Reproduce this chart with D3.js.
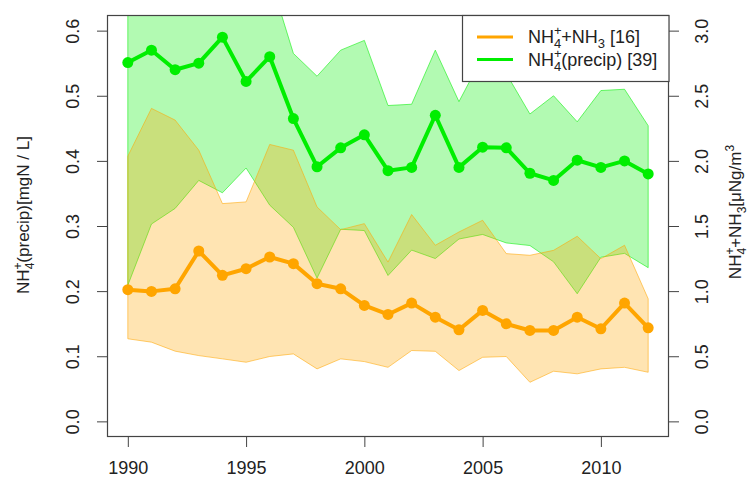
<!DOCTYPE html>
<html>
<head>
<meta charset="utf-8">
<script src="https://cdn.jsdelivr.net/npm/d3@7"></script>
<style>
    body { margin: 0; background: #fff; }
    svg { display: block; font-family: "Liberation Sans", Arial, sans-serif; }
</style>
</head>
<body>
<div class="chart-container"></div>
<script>
const years = [1990, 1991, 1992, 1993, 1994, 1995, 1996, 1997, 1998, 1999, 2000, 2001,
    2002, 2003, 2004, 2005, 2006, 2007, 2008, 2009, 2010, 2011, 2012];

// NH4+(precip), left axis [mgN/L]
const precipMean = [0.551, 0.570, 0.540, 0.550, 0.590, 0.522, 0.560, 0.465, 0.391, 0.420, 0.440, 0.385,
    0.390, 0.470, 0.390, 0.421, 0.420, 0.381, 0.370, 0.401, 0.390, 0.400, 0.380];
const precipUpper = [0.80, 0.78, 0.76, 0.78, 0.74, 0.72, 0.683, 0.565, 0.530, 0.570, 0.585, 0.485,
    0.487, 0.570, 0.491, 0.560, 0.534, 0.472, 0.500, 0.460, 0.508, 0.510, 0.454];
const precipLower = [0.209, 0.303, 0.327, 0.370, 0.351, 0.389, 0.332, 0.298, 0.220, 0.295, 0.293, 0.224,
    0.263, 0.250, 0.280, 0.287, 0.274, 0.270, 0.245, 0.196, 0.252, 0.258, 0.236];

// NH4+ + NH3, right axis [uNg/m3]
const nhMean = [1.011, 0.998, 1.018, 1.308, 1.121, 1.172, 1.262, 1.211, 1.057, 1.018, 0.890, 0.821,
    0.908, 0.800, 0.703, 0.852, 0.749, 0.698, 0.698, 0.800, 0.711, 0.908, 0.718];
const nhUpper = [2.036, 2.403, 2.313, 2.082, 1.672, 1.685, 2.126, 2.082, 1.646, 1.472, 1.518, 1.223,
    1.588, 1.352, 1.454, 1.544, 1.288, 1.275, 1.313, 1.421, 1.249, 1.352, 0.941];
const nhLower = [0.634, 0.608, 0.539, 0.505, 0.480, 0.454, 0.498, 0.518, 0.403, 0.480, 0.459, 0.415,
    0.544, 0.538, 0.390, 0.492, 0.498, 0.300, 0.385, 0.365, 0.403, 0.415, 0.377];

const xTicks = [1990, 1995, 2000, 2005, 2010];
const leftTicks = [0.0, 0.1, 0.2, 0.3, 0.4, 0.5, 0.6];
const rightTicks = [0.0, 0.5, 1.0, 1.5, 2.0, 2.5, 3.0];

const WIDTH = 749;
const HEIGHT = 477;
const plot = { left: 107, right: 669, top: 15, bottom: 437 };
const FONT = 17;
const TICK_FONT = 18;
const ORANGE = '#ffa500';
const GREEN = '#00ee00';

const svg = d3.select('.chart-container').append('svg')
    .attr('width', WIDTH)
    .attr('height', HEIGHT);

const x = d3.scaleLinear().domain([1989.12, 2012.88]).range([plot.left, plot.right]);
const yL = d3.scaleLinear().domain([-0.024, 0.624]).range([plot.bottom, plot.top]);
const yR = d3.scaleLinear().domain([-0.12, 3.12]).range([plot.bottom, plot.top]);

svg.append('clipPath').attr('id', 'plot-clip')
    .append('rect')
    .attr('x', plot.left)
    .attr('y', plot.top)
    .attr('width', plot.right - plot.left)
    .attr('height', plot.bottom - plot.top);

const body = svg.append('g').attr('clip-path', 'url(#plot-clip)');

function drawBand(lower, upper, yScale, color, fillOpacity) {
    const area = d3.area()
        .x((d, i) => x(years[i]))
        .y0((d, i) => yScale(lower[i]))
        .y1((d, i) => yScale(upper[i]));
    body.append('path')
        .datum(years)
        .attr('d', area)
        .attr('fill', color)
        .attr('fill-opacity', fillOpacity)
        .attr('stroke', color)
        .attr('stroke-opacity', 0.55)
        .attr('stroke-width', 1);
}

function drawSeries(values, yScale, color) {
    const line = d3.line()
        .x((d, i) => x(years[i]))
        .y((d) => yScale(d));
    body.append('path')
        .datum(values)
        .attr('d', line)
        .attr('fill', 'none')
        .attr('stroke', color)
        .attr('stroke-width', 4)
        .attr('stroke-linejoin', 'round');
    body.selectAll(null)
        .data(values)
        .enter()
        .append('circle')
        .attr('cx', (d, i) => x(years[i]))
        .attr('cy', (d) => yScale(d))
        .attr('r', 5.5)
        .attr('fill', color);
}

drawBand(precipLower, precipUpper, yL, GREEN, 0.3);
drawBand(nhLower, nhUpper, yR, ORANGE, 0.3);
drawSeries(precipMean, yL, GREEN);
drawSeries(nhMean, yR, ORANGE);

// axes, R style: ticks outside, rotated labels on the vertical axes
const fmt = d3.format('.1f');

const xAxis = svg.append('g')
    .attr('transform', 'translate(0,' + plot.bottom + ')')
    .call(d3.axisBottom(x).tickValues(xTicks).tickSize(10).tickPadding(14).tickFormat(d3.format('d')));

const leftAxis = svg.append('g')
    .attr('transform', 'translate(' + plot.left + ',0)')
    .call(d3.axisLeft(yL).tickValues(leftTicks).tickSize(10).tickFormat(fmt));

const rightAxis = svg.append('g')
    .attr('transform', 'translate(' + plot.right + ',0)')
    .call(d3.axisRight(yR).tickValues(rightTicks).tickSize(10).tickFormat(fmt));

[xAxis, leftAxis, rightAxis].forEach((axis) => {
    axis.select('.domain').remove();
    axis.selectAll('line').attr('stroke', '#444');
    axis.selectAll('text')
        .attr('font-size', TICK_FONT)
        .attr('font-family', '"Liberation Sans", Arial, sans-serif')
        .attr('fill', '#222');
});

leftAxis.selectAll('text')
    .attr('x', null)
    .attr('dy', null)
    .attr('text-anchor', 'middle')
    .attr('transform', 'translate(-34,0) rotate(-90)')
    .attr('y', 6);

rightAxis.selectAll('text')
    .attr('x', null)
    .attr('dy', null)
    .attr('text-anchor', 'middle')
    .attr('transform', 'translate(33,0) rotate(-90)')
    .attr('y', 6);

svg.append('rect')
    .attr('x', plot.left + 0.5)
    .attr('y', plot.top + 0.5)
    .attr('width', plot.right - plot.left - 1)
    .attr('height', plot.bottom - plot.top - 1)
    .attr('fill', 'none')
    .attr('stroke', '#444')
    .attr('stroke-width', 1.2);

// rich text: NH with stacked super/subscripts
function richText(sel, parts, size) {
    const small = Math.round(size * 0.72);
    let shift = 0;
    parts.forEach((p) => {
        const t = sel.append('tspan').text(p.t);
        let target = 0;
        if (p.type === 'sup') {
            target = -size * 0.42;
            t.attr('font-size', small);
        } else if (p.type === 'sub') {
            target = size * 0.3;
            t.attr('font-size', small);
        } else if (p.type === 'stack') {
            // superscript first, then subscript under it
            t.text(p.sup).attr('font-size', small);
            t.attr('dy', -size * 0.42 - shift);
            const w = small * 0.58;
            sel.append('tspan').text(p.sub)
                .attr('font-size', small)
                .attr('dx', -w)
                .attr('dy', size * 0.72);
            shift = size * 0.3;
            return;
        } else {
            t.attr('font-size', size);
        }
        t.attr('dy', target - shift);
        shift = target;
    });
}

const leftTitle = svg.append('text')
    .attr('transform', 'translate(29,215) rotate(-90)')
    .attr('text-anchor', 'middle')
    .attr('fill', '#222');
richText(leftTitle, [
    { t: 'NH' },
    { type: 'stack', sup: '+', sub: '4' },
    { t: '(precip)[mgN / L]' },
], FONT);

const rightTitle = svg.append('text')
    .attr('transform', 'translate(741,212) rotate(-90)')
    .attr('text-anchor', 'middle')
    .attr('fill', '#222');
richText(rightTitle, [
    { t: 'NH' },
    { type: 'stack', sup: '+', sub: '4' },
    { t: '+NH' },
    { t: '3', type: 'sub' },
    { t: '[\u03bcNg/m' },
    { t: '3', type: 'sup' },
], FONT);

// legend
const legendItems = [
    { color: ORANGE, parts: [{ t: 'NH' }, { type: 'stack', sup: '+', sub: '4' }, { t: '+NH' }, { t: '3', type: 'sub' }, { t: ' [16]' }] },
    { color: GREEN, parts: [{ t: 'NH' }, { type: 'stack', sup: '+', sub: '4' }, { t: '(precip) [39]' }] },
];

const legend = svg.append('g');
legend.append('rect')
    .attr('x', 462.5)
    .attr('y', plot.top + 0.5)
    .attr('width', plot.right - 462.5)
    .attr('height', 66)
    .attr('fill', '#fff')
    .attr('stroke', '#444')
    .attr('stroke-width', 1.2);

legendItems.forEach((item, i) => {
    const cy = 37 + i * 22.5;
    legend.append('line')
        .attr('x1', 477)
        .attr('x2', 513)
        .attr('y1', cy)
        .attr('y2', cy)
        .attr('stroke', item.color)
        .attr('stroke-width', 3);
    const t = legend.append('text')
        .attr('x', 528)
        .attr('y', cy + 6)
        .attr('fill', '#222');
    richText(t, item.parts, 18);
});
</script>
</body>
</html>
